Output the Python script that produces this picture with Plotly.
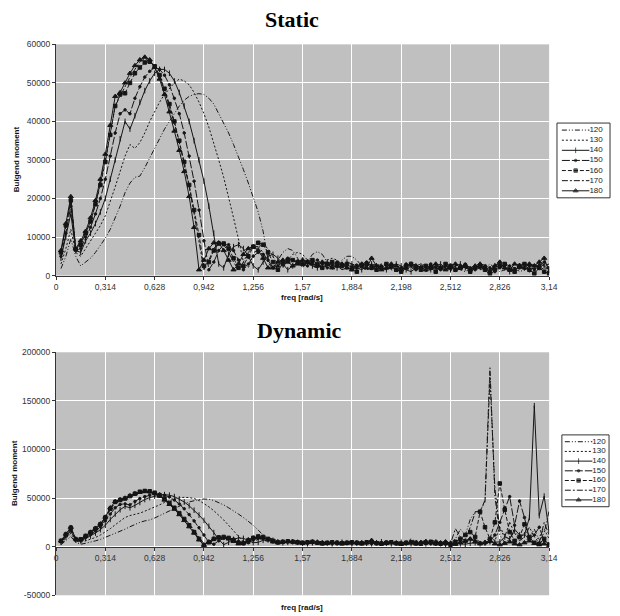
import plotly.graph_objects as go

# ---------------- data (moment values in thousands) ----------------
freq = [0.0314, 0.0628, 0.0942, 0.1256, 0.1570, 0.1884, 0.2198, 0.2512, 0.2826, 0.3140,
        0.3454, 0.3768, 0.4082, 0.4396, 0.4710, 0.5024, 0.5338, 0.5652, 0.5966, 0.6280,
        0.6594, 0.6908, 0.7222, 0.7536, 0.7850, 0.8164, 0.8478, 0.8792, 0.9106, 0.9420,
        0.9734, 1.0048, 1.0362, 1.0676, 1.0990, 1.1304, 1.1618, 1.1932, 1.2246, 1.2560,
        1.2874, 1.3188, 1.3502, 1.3816, 1.4130, 1.4444, 1.4758, 1.5072, 1.5386, 1.5700,
        1.6014, 1.6328, 1.6642, 1.6956, 1.7270, 1.7584, 1.7898, 1.8212, 1.8526, 1.8840,
        1.9154, 1.9468, 1.9782, 2.0096, 2.0410, 2.0724, 2.1038, 2.1352, 2.1666, 2.1980,
        2.2294, 2.2608, 2.2922, 2.3236, 2.3550, 2.3864, 2.4178, 2.4492, 2.4806, 2.5120,
        2.5434, 2.5748, 2.6062, 2.6376, 2.6690, 2.7004, 2.7318, 2.7632, 2.7946, 2.8260,
        2.8574, 2.8888, 2.9202, 2.9516, 2.9830, 3.0144, 3.0458, 3.0772, 3.1086, 3.1400]

series_names = ["120", "130", "140", "150", "160", "170", "180"]

x_tick_vals = [0, 0.314, 0.628, 0.942, 1.256, 1.57, 1.884, 2.198, 2.512, 2.826, 3.14]
x_tick_text = ["0", "0,314", "0,628", "0,942", "1,256", "1,57", "1,884", "2,198", "2,512", "2,826", "3,14"]
static_y_ticks = [0, 10000, 20000, 30000, 40000, 50000, 60000]
dynamic_y_ticks = [-50000, 0, 50000, 100000, 150000, 200000]

# Static
st_120 = [1.8, 5.0, 9.5, 5.0, 2.5, 3.5, 4.5, 6.0, 7.8, 9.7,
          12.0, 15.0, 18.0, 21.5, 24.0, 25.5, 25.8, 28.0, 30.5, 33.0,
          35.5, 38.0, 40.0, 42.0, 44.0, 45.5, 46.5, 47.0, 47.2, 47.0,
          46.0, 44.5, 42.0, 39.5, 37.0, 34.0, 31.0, 27.5, 24.0, 20.5,
          16.5, 11.5, 4.0, 2.0, 4.0, 6.0, 7.0, 6.5, 4.5, 2.0,
          3.5, 5.5, 6.2, 5.5, 3.5, 1.5, 2.5, 4.0, 5.0, 5.0,
          4.0, 2.5, 1.5, 2.0, 3.0, 2.5, 1.5, 2.0, 2.5, 2.0,
          1.5, 2.5, 3.0, 2.0, 1.0, 1.5, 2.5, 2.0, 1.5, 2.0,
          2.5, 1.5, 1.0, 2.0, 2.5, 1.5, 2.0, 3.0, 2.0, 1.0,
          1.5, 2.5, 2.0, 1.0, 1.5, 2.5, 3.0, 2.0, 2.5, 3.0]
st_130 = [3.0, 7.0, 12.0, 6.0, 5.0, 7.0, 9.0, 11.0, 13.0, 15.5,
          19.0, 23.0, 27.0, 31.0, 34.0, 33.0, 34.5, 37.0, 40.0, 42.5,
          45.0, 47.0, 48.5, 50.0, 51.0, 50.5, 49.5, 47.5, 45.0, 42.0,
          38.5, 34.5, 30.0, 25.5, 20.5, 15.0, 9.5, 3.5, 2.0, 5.5,
          7.5, 8.0, 7.0, 5.0, 2.5, 2.0, 4.0, 5.5, 6.0, 5.5,
          4.0, 2.5, 2.0, 3.0, 4.0, 4.5, 4.0, 3.0, 2.0, 2.5,
          3.0, 2.5, 2.0, 1.5, 2.5, 3.0, 2.5, 1.5, 1.0, 2.0,
          2.5, 2.0, 1.5, 2.5, 3.0, 2.0, 1.5, 2.0, 2.5, 1.5,
          1.0, 2.0, 2.5, 2.0, 1.5, 2.5, 3.0, 2.0, 1.5, 2.0,
          2.5, 2.0, 1.0, 1.5, 2.5, 3.0, 2.0, 1.5, 2.0, 1.5]
st_140 = [4.5, 10.0, 16.0, 6.5, 6.0, 9.0, 11.0, 13.5, 16.5, 20.0,
          25.0, 30.0, 35.5, 40.0, 38.0, 41.5, 45.0, 48.0, 50.5, 52.5,
          53.5, 53.5, 52.5, 50.5, 47.5, 44.0, 40.0, 35.0, 30.0, 24.5,
          18.0, 11.0, 3.0, 2.0, 5.5, 7.5, 8.0, 7.0, 5.0, 2.5,
          1.5, 3.5, 5.0, 5.5, 4.5, 3.0, 1.5, 2.5, 3.5, 4.0,
          3.5, 2.5, 2.0, 3.0, 3.5, 3.0, 2.0, 2.5, 3.5, 3.0,
          2.0, 1.5, 2.5, 3.0, 2.5, 2.0, 1.5, 2.5, 3.0, 2.5,
          1.5, 1.0, 2.0, 2.5, 2.0, 1.5, 2.5, 3.0, 2.0, 1.5,
          2.5, 3.0, 2.0, 1.5, 2.0, 2.5, 2.0, 1.5, 2.5, 3.0,
          2.0, 1.0, 1.5, 2.5, 2.0, 1.5, 2.0, 3.0, 2.5, 1.5]
st_150 = [5.0, 11.0, 18.0, 6.5, 7.0, 10.0, 12.5, 16.0, 20.0, 25.0,
          31.0, 37.0, 42.0, 43.0, 42.0, 46.0, 49.0, 51.5, 53.0, 54.0,
          53.5, 52.0, 49.5, 46.0, 42.0, 37.0, 31.0, 24.5, 17.0, 9.0,
          1.5, 3.5, 6.5, 8.0, 8.0, 6.5, 4.0, 1.5, 3.0, 5.0,
          6.0, 5.5, 4.0, 2.0, 2.5, 3.5, 4.5, 4.0, 3.5, 3.0,
          2.5, 3.5, 4.0, 3.0, 2.0, 2.5, 3.5, 3.0, 2.0, 1.5,
          2.0, 3.0, 3.5, 2.5, 1.5, 2.5, 3.0, 2.0, 1.5, 2.0,
          3.0, 2.5, 1.5, 2.0, 2.5, 3.0, 2.0, 1.5, 2.5, 2.0,
          1.5, 2.5, 3.0, 2.0, 1.5, 2.0, 2.5, 2.0, 1.0, 2.0,
          3.0, 2.5, 1.5, 2.0, 3.0, 2.5, 1.5, 2.5, 3.5, 2.0]
st_160 = [6.0, 13.0, 19.5, 6.8, 8.0, 11.0, 14.0, 18.5, 23.5, 29.5,
          36.5, 44.0, 47.0, 47.3, 50.0, 52.5, 54.0, 55.3, 55.5, 54.3,
          52.0, 48.5, 44.5, 40.0, 35.0, 29.5, 23.5, 17.0, 10.5, 2.5,
          3.5, 6.5, 8.3, 8.3, 7.0, 4.5, 2.0, 2.5, 5.0, 7.5,
          8.5, 8.0, 6.0, 3.5, 1.5, 3.0, 4.0, 4.0, 3.5, 3.0,
          3.5, 4.0, 3.0, 2.0, 3.0, 3.5, 3.0, 2.5, 3.0, 2.0,
          1.0, 2.5, 3.0, 2.0, 1.5, 2.0, 3.0, 2.5, 1.5, 1.0,
          2.5, 3.0, 2.0, 1.5, 2.5, 2.0, 1.0, 2.0, 3.0, 2.5,
          1.5, 2.0, 2.5, 1.0, 2.0, 2.5, 1.5, 0.5, 1.5, 2.5,
          3.0, 1.5, 1.0, 2.5, 3.0, 1.5, 0.5, 2.0, 1.0, 0.5]
st_170 = [6.0, 12.5, 19.5, 7.0, 8.5, 11.0, 14.0, 18.5, 24.0, 30.0,
          37.0, 44.0, 46.5, 49.0, 51.5, 53.5, 55.5, 56.3, 55.8, 54.0,
          51.5, 48.0, 44.0, 39.5, 34.5, 29.0, 23.0, 16.0, 8.5, 1.5,
          4.0, 7.0, 8.5, 8.0, 6.0, 3.5, 1.5, 3.5, 6.0, 7.5,
          7.5, 6.0, 3.5, 1.5, 2.5, 4.0, 4.5, 4.0, 3.0, 2.5,
          3.0, 3.5, 3.0, 2.0, 2.5, 3.0, 2.5, 1.5, 2.0, 3.0,
          2.5, 2.0, 1.5, 2.5, 3.0, 2.0, 1.5, 2.0, 2.5, 2.0,
          1.5, 2.0, 2.5, 3.0, 2.0, 1.5, 2.0, 2.5, 2.0, 1.5,
          2.0, 2.5, 2.0, 1.5, 2.0, 2.5, 1.5, 1.0, 2.0, 2.5,
          2.0, 1.0, 2.0, 2.5, 1.5, 2.0, 3.0, 2.0, 3.0, 2.0]
st_180 = [6.5, 13.5, 20.5, 7.0, 9.0, 11.5, 15.0, 19.5, 25.0, 31.5,
          39.0, 46.5, 47.5, 50.0, 52.5, 54.5, 56.0, 56.7, 56.0, 54.0,
          51.0, 47.0, 42.5, 37.5, 32.5, 27.0, 20.5, 12.5, 1.5, 4.0,
          7.0, 8.5, 8.5, 6.5, 4.0, 1.5, 3.0, 5.5, 7.0, 7.5,
          6.5, 4.5, 2.0, 2.0, 3.5, 4.0, 3.5, 2.5, 3.0, 4.0,
          3.5, 3.0, 2.5, 3.5, 3.0, 2.0, 2.5, 3.0, 2.0, 1.5,
          2.5, 3.0, 2.0, 4.5, 2.5, 1.5, 2.0, 3.0, 2.5, 1.5,
          2.0, 3.0, 2.5, 2.0, 1.5, 2.5, 3.0, 2.0, 1.5, 2.5,
          3.0, 2.0, 2.5, 1.5, 2.5, 3.0, 2.0, 1.0, 2.5, 3.5,
          2.0, 1.5, 3.0, 2.5, 2.0, 3.0, 2.5, 3.5, 4.5, 1.0]

# Dynamic
dy_120 = [2.0, 6.0, 10.5, 4.5, 2.5, 3.5, 4.5, 6.0, 7.5, 9.5,
          11.5, 13.5, 15.5, 18.0, 20.5, 23.0, 25.0, 26.5, 27.5, 29.5,
          32.0, 34.5, 37.0, 39.5, 42.0, 44.0, 46.0, 47.5, 48.5, 49.0,
          48.8, 47.5, 45.5, 43.0, 40.0, 37.0, 33.5, 30.0, 26.0, 22.0,
          17.0, 12.0, 9.0, 7.5, 6.5, 5.5, 5.0, 5.5, 6.0, 5.5,
          5.0, 4.5, 5.0, 5.5, 5.0, 4.5, 4.0, 4.5, 5.0, 5.5,
          5.0, 4.5, 4.0, 4.5, 5.0, 5.5, 5.0, 4.0, 4.5, 5.0,
          5.5, 5.0, 4.0, 5.5, 6.0, 4.5, 4.0, 5.0, 3.5, 4.0,
          8.0, 18.0, 12.0, 28.0, 36.0, 36.0, 48.0, 185.0, 52.0, 12.0,
          4.0, 8.0, 16.0, 9.0, 4.0, 10.0, 18.0, 6.0, 14.0, 37.0]
dy_130 = [3.5, 8.0, 13.5, 6.0, 4.5, 6.0, 7.5, 9.5, 12.0, 15.0,
          18.5, 22.5, 26.5, 30.0, 32.0, 33.0, 34.5, 36.5, 38.5, 41.0,
          43.0, 45.5, 47.5, 49.0, 50.2, 50.8, 50.5, 49.5, 47.5, 44.5,
          41.0, 37.0, 32.5, 27.5, 22.0, 16.0, 10.5, 5.0, 3.0, 5.5,
          7.5, 8.5, 8.0, 6.5, 5.0, 4.5, 5.5, 6.0, 5.5, 4.5,
          4.0, 4.5, 5.0, 4.5, 4.0, 3.5, 4.0, 4.5, 5.0, 4.0,
          3.5, 4.0, 4.5, 4.0, 3.5, 3.0, 4.0, 5.0, 4.0, 3.5,
          4.5, 8.0, 5.0, 4.0, 3.5, 5.0, 7.0, 4.5, 3.0, 4.0,
          6.0, 5.0, 4.0, 6.0, 8.0, 5.0, 4.0, 10.0, 6.0, 20.0,
          12.0, 6.0, 4.0, 8.0, 14.0, 6.0, 4.0, 10.0, 18.0, 8.0]
dy_140 = [4.5, 10.0, 16.0, 7.0, 6.0, 8.5, 11.0, 14.0, 17.5, 22.0,
          28.0, 33.5, 38.0, 41.5, 40.0, 42.5, 45.5, 48.5, 50.5, 52.0,
          53.0, 53.5, 53.0, 51.5, 49.0, 46.0, 42.0, 37.5, 32.5, 27.0,
          21.0, 14.5, 7.5, 2.0, 4.5, 7.5, 9.0, 8.5, 6.5, 4.0,
          4.5, 6.5, 7.0, 6.5, 5.0, 4.0, 4.5, 5.0, 4.5, 3.5,
          3.0, 4.0, 4.5, 4.0, 3.5, 3.0, 3.5, 4.5, 4.0, 3.0,
          3.5, 4.0, 3.5, 3.0, 4.0, 5.0, 3.5, 3.0, 4.0, 4.5,
          3.5, 3.0, 4.0, 3.5, 3.0, 4.0, 4.5, 3.0, 2.5, 3.5,
          4.0, 3.0, 2.5, 3.5, 4.0, 3.0, 4.0, 5.0, 4.5, 5.0,
          10.0, 8.0, 18.0, 12.0, 12.0, 30.0, 145.0, 32.0, 52.0, 15.0]
dy_150 = [5.0, 11.0, 17.0, 7.0, 6.5, 9.5, 12.5, 16.0, 20.5, 26.5,
          33.5, 40.0, 43.5, 44.0, 43.0, 46.5, 49.5, 51.5, 53.0, 54.0,
          54.0, 53.0, 51.0, 48.0, 44.0, 39.0, 33.0, 26.5, 19.5, 12.0,
          4.5, 2.5, 6.0, 8.5, 9.0, 8.0, 5.5, 3.0, 4.0, 7.0,
          8.5, 8.5, 7.0, 5.0, 4.0, 4.5, 5.0, 5.5, 5.0, 4.0,
          3.5, 4.0, 5.0, 4.5, 3.5, 3.0, 4.0, 4.5, 4.0, 3.0,
          3.5, 4.5, 4.0, 3.0, 3.5, 4.0, 5.0, 4.0, 3.0, 3.5,
          4.5, 4.0, 3.0, 3.5, 4.0, 3.0, 2.5, 4.0, 5.0, 3.5,
          3.0, 4.0, 5.0, 8.0, 6.0, 4.0, 3.0, 5.0, 12.0, 25.0,
          40.0, 51.5, 22.0, 47.0, 30.0, 8.0, 12.0, 20.0, 6.0, 3.0]
dy_160 = [6.0, 12.5, 19.5, 7.5, 7.5, 11.0, 14.5, 18.5, 23.0, 30.0,
          39.0, 46.0, 48.0, 49.5, 52.0, 54.5, 56.5, 57.3, 57.0, 55.5,
          53.0, 49.5, 45.0, 40.0, 34.5, 28.5, 22.0, 15.0, 8.0, 1.7,
          4.5, 8.0, 9.5, 10.0, 9.0, 6.5, 4.0, 3.5, 6.5, 9.0,
          10.5, 10.0, 8.0, 6.0, 4.5, 5.0, 5.5, 5.0, 4.5, 4.0,
          4.5, 5.0, 4.0, 3.5, 4.0, 4.5, 4.0, 3.5, 4.0, 4.5,
          4.0, 3.5, 4.5, 5.0, 3.5, 3.0, 4.0, 4.5, 3.5, 3.0,
          4.0, 4.5, 3.5, 3.0, 4.0, 5.0, 4.0, 3.0, 3.5, 2.0,
          5.0, 8.0, 12.0, 15.0, 10.0, 36.0, 20.0, 8.0, 25.0, 65.0,
          38.0, 15.0, 6.0, 10.0, 23.0, 10.0, 4.0, 3.0, 8.0, 2.0]
dy_170 = [5.5, 12.0, 19.0, 7.5, 7.0, 10.5, 14.0, 18.0, 22.5, 29.0,
          38.0, 45.0, 47.5, 49.5, 52.0, 54.0, 55.5, 56.3, 56.0, 54.5,
          52.0, 48.5, 44.5, 40.0, 35.0, 29.5, 23.5, 17.0, 10.0, 3.0,
          3.5, 7.0, 9.0, 9.5, 8.5, 6.0, 3.5, 3.0, 5.5, 8.0,
          9.0, 8.5, 7.0, 5.0, 3.5, 4.0, 5.0, 5.5, 5.0, 4.0,
          3.5, 4.0, 4.5, 4.0, 3.0, 3.5, 4.0, 3.5, 3.0, 3.5,
          4.0, 3.5, 3.0, 3.5, 4.0, 3.0, 2.5, 3.5, 4.0, 3.0,
          3.0, 4.0, 6.5, 4.0, 3.0, 3.5, 5.5, 4.0, 3.0, 3.0,
          18.5, 10.0, 6.0, 20.0, 35.0, 37.0, 46.0, 175.0, 60.0, 18.0,
          10.0, 25.0, 14.0, 6.0, 10.0, 20.0, 10.0, 4.0, 25.0, 12.0]
dy_180 = [6.0, 13.0, 20.0, 8.0, 7.5, 11.0, 15.0, 19.0, 23.5, 30.5,
          40.0, 46.5, 48.5, 50.0, 52.5, 54.5, 56.0, 57.0, 56.5, 55.0,
          52.0, 48.0, 43.5, 38.5, 33.0, 27.0, 20.5, 14.0, 7.0, 1.5,
          5.0, 8.0, 9.5, 9.5, 8.0, 5.5, 3.0, 4.0, 7.0, 9.0,
          10.0, 9.0, 7.0, 5.0, 4.0, 5.0, 5.5, 5.0, 4.0, 3.5,
          4.5, 5.0, 4.0, 3.0, 3.5, 4.5, 4.0, 3.0, 3.5, 4.5,
          4.0, 3.0, 4.0, 6.5, 4.0, 3.0, 3.5, 4.5, 3.5, 2.5,
          3.5, 4.0, 3.0, 4.5, 5.5, 4.0, 3.0, 4.0, 5.0, 3.5,
          2.5, 4.0, 6.0, 8.0, 5.0, 3.0, 4.5, 6.0, 3.0, 2.0,
          3.5, 5.0, 3.0, 2.0, 4.0, 6.0, 3.5, 2.0, 3.0, 1.5]

static_sets = [st_120, st_130, st_140, st_150, st_160, st_170, st_180]
dynamic_sets = [dy_120, dy_130, dy_140, dy_150, dy_160, dy_170, dy_180]

# ---------------- styling ----------------
W, H = 620, 616
def fx(p):
    return p / W
def fy(p):
    return 1 - p / H

INK = "#151515"
styles = [
    dict(dash="5px,2px,1px,2px,1px,2px", symbol=None, size=0),     # 120
    dict(dash="2px,2px", symbol=None, size=0),                      # 130
    dict(dash="solid", symbol="line-ns-open", size=4),              # 140
    dict(dash="8px,2px", symbol="circle", size=2.5),                # 150
    dict(dash="4px,2px", symbol="square", size=3.5),                # 160
    dict(dash="6px,2px,2px,2px", symbol=None, size=0),              # 170
    dict(dash="solid", symbol="triangle-up", size=4.5),             # 180
]

def line_trace(xv, yv, st, xa, ya, marker_sizes=None):
    mode = "lines+markers" if st["symbol"] else "lines"
    kw = dict(x=xv, y=yv, mode=mode, xaxis=xa, yaxis=ya, showlegend=False,
              hoverinfo="skip",
              line=dict(color=INK, width=1, dash=st["dash"]))
    if st["symbol"]:
        kw["marker"] = dict(symbol=st["symbol"],
                            size=marker_sizes if marker_sizes is not None else st["size"],
                            color=INK, line=dict(color=INK, width=1))
    return go.Scatter(**kw)

fig = go.Figure()

for vals, st in zip(static_sets, styles):
    fig.add_trace(line_trace(freq, [v * 1000 for v in vals], st, "x", "y"))
for vals, st in zip(dynamic_sets, styles):
    fig.add_trace(line_trace(freq, [v * 1000 for v in vals], st, "x2", "y2"))

# legend samples drawn in two small hidden axes
legend_axes = [("x3", "y3"), ("x4", "y4")]
for xa, ya in legend_axes:
    for i, (name, st) in enumerate(zip(series_names, styles)):
        fig.add_trace(line_trace([2, 16, 30], [i, i, i], st, xa, ya,
                                 marker_sizes=[0, st["size"], 0]))
    fig.add_trace(go.Scatter(x=[30] * len(series_names), y=list(range(len(series_names))),
                             text=series_names, mode="text", textposition="middle right",
                             textfont=dict(family="Liberation Sans", size=8, color="#222"),
                             xaxis=xa, yaxis=ya, showlegend=False, hoverinfo="skip"))

# ---------------- layout ----------------
tick_font = dict(family="Liberation Sans", size=8.5, color="#333")
plot_x = [fx(55), fx(557)]
top_y = [fy(275), fy(40)]
bot_y = [fy(600), fy(353)]
y2_range = [-50000, 200000]
zero_pos = bot_y[0] + (0 - y2_range[0]) / (y2_range[1] - y2_range[0]) * (bot_y[1] - bot_y[0])

common_x = dict(range=[0, 3.14], tickvals=x_tick_vals, ticktext=x_tick_text,
                showgrid=True, gridcolor="white", gridwidth=1, zeroline=False,
                showline=True, linecolor="#333", linewidth=1,
                ticks="outside", ticklen=3, tickcolor="#333", tickfont=tick_font,
                domain=plot_x, fixedrange=True)
common_y = dict(showgrid=True, gridcolor="white", gridwidth=1, zeroline=False,
                showline=True, linecolor="#333", linewidth=1,
                ticks="outside", ticklen=3, tickcolor="#333", tickfont=tick_font,
                fixedrange=True)
hidden = dict(visible=False, showgrid=False, zeroline=False, fixedrange=True)

fig.update_layout(
    width=W, height=H,
    margin=dict(l=0, r=0, t=0, b=0),
    paper_bgcolor="white",
    plot_bgcolor="#C0C0C0",
    showlegend=False,
    xaxis=dict(common_x, anchor="y"),
    yaxis=dict(common_y, anchor="x", domain=top_y, range=[0, 60000],
               tickvals=static_y_ticks, ticktext=[str(v) for v in static_y_ticks]),
    xaxis2=dict(common_x, anchor="free", position=zero_pos),
    yaxis2=dict(common_y, anchor="x2", domain=bot_y, range=y2_range,
                tickvals=dynamic_y_ticks, ticktext=[str(v) for v in dynamic_y_ticks]),
    xaxis3=dict(hidden, domain=[fx(568), fx(617)], range=[0, 49], anchor="y3"),
    yaxis3=dict(hidden, domain=[fy(194), fy(122)], range=[6.5, -0.5], anchor="x3"),
    xaxis4=dict(hidden, domain=[fx(571), fx(617)], range=[0, 46], anchor="y4"),
    yaxis4=dict(hidden, domain=[fy(508), fy(439)], range=[6.5, -0.5], anchor="x4"),
)

# legend boxes
for (x0, x1, y0, y1) in [(565, 619, 120, 196), (570, 618, 437, 510)]:
    fig.add_shape(type="rect", xref="paper", yref="paper",
                  x0=fx(x0), x1=fx(x1), y0=fy(y1), y1=fy(y0),
                  line=dict(color="#333", width=1), fillcolor="white", layer="below")

# titles
title_font = dict(family="Liberation Serif", size=22, color="black")
axis_title_font = dict(family="Liberation Sans", size=8, color="#111")
annots = [
    dict(text="<b>Static</b>", x=fx(295), y=fy(15), font=title_font),
    dict(text="<b>Dynamic</b>", x=fx(303), y=fy(331), font=title_font),
    dict(text="<b>freq [rad/s]</b>", x=fx(305), y=fy(297), font=axis_title_font),
    dict(text="<b>freq [rad/s]</b>", x=fx(305), y=fy(612), font=axis_title_font),
    dict(text="<b>Buigend moment</b>", x=fx(15), y=fy(157), font=axis_title_font, textangle=-90),
    dict(text="<b>Buigend moment</b>", x=fx(13), y=fy(476), font=axis_title_font, textangle=-90),
]
for a in annots:
    fig.add_annotation(xref="paper", yref="paper", showarrow=False,
                       xanchor="center", yanchor="middle", **a)

fig.write_html("out.html")
